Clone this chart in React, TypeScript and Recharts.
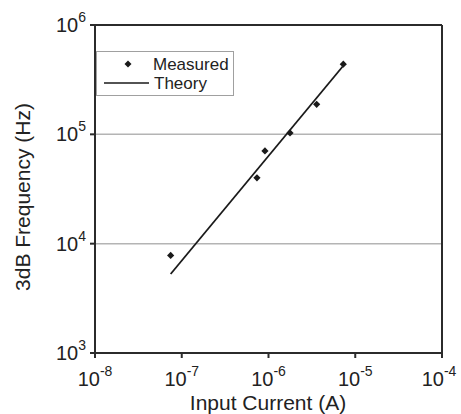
import React from "react";
import {
  ComposedChart,
  Line,
  Scatter,
  XAxis,
  YAxis,
  ReferenceLine,
  Legend,
} from "recharts";

// measured 3dB frequency vs input current
const currentA = [7.45e-8, 7.36e-7, 9.1e-7, 1.77e-6, 3.59e-6, 7.28e-6];
const measuredHz = [7.8e3, 4.0e4, 7.05e4, 1.03e5, 1.88e5, 4.38e5];

// theory line end points
const theoryCurrentA = [7.45e-8, 7.16e-6];
const theoryHz = [5.28e3, 4.17e5];

const xTicks = [1e-8, 1e-7, 1e-6, 1e-5, 1e-4];
const yTicks = [1e3, 1e4, 1e5, 1e6];
const gridLevels = [1e4, 1e5];

const measured = currentA.map((i, k) => ({ i, f: measuredHz[k] }));
const theory = theoryCurrentA.map((i, k) => ({ i, f: theoryHz[k] }));

const FONT = '"Liberation Sans", Arial, sans-serif';
const AXIS = "#2b2b2b";

function PowerTick(props: any) {
  const { x, y, payload, axis } = props;
  const exp = Math.round(Math.log10(payload.value));
  if (axis === "x") {
    return (
      <text x={x} y={y + 26} textAnchor="middle" fontFamily={FONT} fill="#222">
        <tspan fontSize={20}>10</tspan>
        <tspan fontSize={14} dy={-10}>
          {exp}
        </tspan>
      </text>
    );
  }
  return (
    <text x={x - 2} y={y + 7} textAnchor="end" fontFamily={FONT} fill="#222">
      <tspan fontSize={20}>10</tspan>
      <tspan fontSize={14} dy={-10}>
        {exp}
      </tspan>
    </text>
  );
}

function Diamond(props: any) {
  const { cx, cy } = props;
  const r = 3.6;
  return (
    <polygon
      points={`${cx},${cy - r} ${cx + r},${cy} ${cx},${cy + r} ${cx - r},${cy}`}
      fill="#1a1a1a"
    />
  );
}

function LegendBox() {
  return (
    <div
      style={{
        width: 136,
        height: 43,
        border: "1px solid #a0a0a0",
        background: "#fff",
        fontFamily: FONT,
        fontSize: 17,
        color: "#222",
        position: "relative",
      }}
    >
      <svg width={136} height={43} style={{ position: "absolute", left: 0, top: 0 }}>
        <polygon points="31,8.5 34.5,12 31,15.5 27.5,12" fill="#1a1a1a" />
        <line x1={7} y1={31} x2={52} y2={31} stroke="#1a1a1a" strokeWidth={1.6} />
        <text x={56} y={18} fontSize={17} fontFamily={FONT} fill="#222">
          Measured
        </text>
        <text x={57} y={37} fontSize={17} fontFamily={FONT} fill="#222">
          Theory
        </text>
      </svg>
    </div>
  );
}

export default function App() {
  return (
    <div style={{ position: "absolute", left: 0, top: 0, background: "#fff" }}>
      <ComposedChart
        width={461}
        height={414}
        margin={{ top: 25, right: 19, bottom: 0, left: 0 }}
      >
        <XAxis
          type="number"
          dataKey="i"
          scale="log"
          domain={[1e-8, 1e-4]}
          ticks={xTicks}
          allowDataOverflow
          height={61}
          stroke={AXIS}
          strokeWidth={2}
          tickSize={5}
          tick={<PowerTick axis="x" />}
          label={{
            content: () => (
              <text
                x={268}
                y={410}
                textAnchor="middle"
                fontSize={21}
                fontFamily={FONT}
                fill="#222"
              >
                Input Current (A)
              </text>
            ),
          }}
        />
        <YAxis
          type="number"
          dataKey="f"
          scale="log"
          domain={[1e3, 1e6]}
          ticks={yTicks}
          allowDataOverflow
          width={95}
          stroke={AXIS}
          strokeWidth={2}
          tickSize={5}
          tick={<PowerTick axis="y" />}
          label={{
            content: () => (
              <text
                x={30}
                y={197}
                textAnchor="middle"
                fontSize={21}
                fontFamily={FONT}
                fill="#222"
                transform="rotate(-90 30 197)"
              >
                3dB Frequency (Hz)
              </text>
            ),
          }}
        />
        {gridLevels.map((g) => (
          <ReferenceLine key={g} y={g} stroke="#b4b4b4" strokeWidth={1.5} />
        ))}
        <ReferenceLine y={1e6} stroke={AXIS} strokeWidth={2} />
        <ReferenceLine x={1e-4} stroke={AXIS} strokeWidth={2} />
        <Legend
          layout="horizontal"
          verticalAlign="middle"
          wrapperStyle={{ left: 96, top: 51, width: 138 }}
          content={() => <LegendBox />}
        />
        <Line
          data={theory}
          dataKey="f"
          name="Theory"
          type="linear"
          stroke="#1a1a1a"
          strokeWidth={1.8}
          dot={false}
          activeDot={false}
          isAnimationActive={false}
        />
        <Scatter
          data={measured}
          dataKey="f"
          name="Measured"
          shape={<Diamond />}
          isAnimationActive={false}
        />
      </ComposedChart>
    </div>
  );
}
